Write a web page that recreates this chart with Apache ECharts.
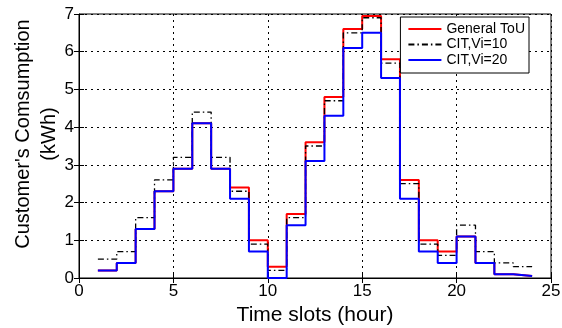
<!DOCTYPE html>
<html>
<head>
<meta charset="utf-8">
<title>ECharts</title>
<script src="https://cdn.jsdelivr.net/npm/echarts@6/dist/echarts.min.js"></script>
<style>html,body{margin:0;padding:0;background:#fff}</style>
</head>
<body>
<div id="main" style="width:562px;height:328px;"></div>
<script type="text/javascript">
// hour slots (each value holds from slot start to slot start + 1)
var hours = [1,2,3,4,5,6,7,8,9,10,11,12,13,14,15,16,17,18,19,20,21,22,23];
var generalToU = [0.2,0.4,1.3,2.3,2.9,4.1,2.9,2.4,1.0,0.3,1.7,3.6,4.8,6.6,6.95,5.8,2.6,1.0,0.7,1.1,0.4,0.1,0.05];
var citVi10 = [0.5,0.7,1.6,2.6,3.2,4.4,3.2,2.3,0.9,0.2,1.6,3.5,4.7,6.5,6.9,5.7,2.5,0.9,0.6,1.4,0.7,0.4,0.3];
var citVi20 = [0.2,0.4,1.3,2.3,2.9,4.1,2.9,2.1,0.7,0.0,1.4,3.1,4.3,6.1,6.5,5.3,2.1,0.7,0.4,1.1,0.4,0.1,0.05];
var seriesNames = ['General ToU', 'CIT,Vi=10', 'CIT,Vi=20'];
var xTicks = [0,5,10,15,20,25];
var yTicks = [0,1,2,3,4,5,6,7];

function steps(vals) {
    var pts = hours.map(function (h, i) { return [h, vals[i]]; });
    pts.push([hours[hours.length - 1] + 1, vals[vals.length - 1]]);
    return pts;
}

var font = 'Liberation Sans';
var myChart = echarts.init(document.getElementById('main'));
myChart.setOption({
    animation: false,
    textStyle: {fontFamily: font},
    grid: {left: 79, right: 11, top: 14, bottom: 50, outerBoundsMode: 'none', containLabel: false,
        show: true, borderColor: '#000', borderWidth: 1},
    legend: {
        orient: 'vertical', right: 33, top: 17,
        backgroundColor: '#fff', borderColor: '#000', borderWidth: 1,
        padding: [5, 4, 6, 7], itemGap: 1.5, itemWidth: 33, itemHeight: 14,
        itemStyle: {opacity: 0},
        textStyle: {fontFamily: font, fontSize: 14, color: '#000'},
        data: seriesNames
    },
    xAxis: [{
        type: 'value', min: xTicks[0], max: xTicks[xTicks.length - 1], interval: 5,
        name: 'Time slots (hour)', nameLocation: 'middle', nameGap: 27,
        nameTextStyle: {fontSize: 21, color: '#000'},
        axisLine: {lineStyle: {color: '#000'}},
        axisTick: {inside: true, length: 5, lineStyle: {color: '#000'}},
        axisLabel: {fontSize: 17, color: '#000', margin: 5},
        splitLine: {lineStyle: {color: '#000', type: [2, 4], width: 1}}
    }, {
        type: 'value', position: 'top', min: 0, max: 25, interval: 5,
        axisLine: {show: false}, axisLabel: {show: false}, splitLine: {show: false},
        axisTick: {inside: true, length: 5, lineStyle: {color: '#000'}}
    }],
    yAxis: [{
        type: 'value', min: yTicks[0], max: yTicks[yTicks.length - 1], interval: 1,
        name: "Customer's Comsumption\n(kWh)", nameLocation: 'middle', nameGap: 17,
        nameMoveOverlap: false,
        nameTextStyle: {fontSize: 20, color: '#000', lineHeight: 26, padding: [0, 0, 0, 24]},
        axisLine: {lineStyle: {color: '#000'}},
        axisTick: {inside: true, length: 5, lineStyle: {color: '#000'}},
        axisLabel: {fontSize: 17, color: '#000', margin: 5},
        splitLine: {lineStyle: {color: '#000', type: [2, 4], width: 1}}
    }, {
        type: 'value', position: 'right', min: 0, max: 7, interval: 1,
        axisLine: {show: false}, axisLabel: {show: false}, splitLine: {show: false},
        axisTick: {inside: true, length: 5, lineStyle: {color: '#000'}}
    }],
    series: [{
        name: seriesNames[0], type: 'line', step: 'end', symbol: 'none',
        data: steps(generalToU), color: '#ff0000',
        lineStyle: {color: '#ff0000', width: 2}
    }, {
        name: seriesNames[1], type: 'line', step: 'end', symbol: 'none',
        data: steps(citVi10), color: '#000',
        lineStyle: {color: '#000', width: 1.3, type: [6, 3, 1.5, 3]}
    }, {
        name: seriesNames[2], type: 'line', step: 'end', symbol: 'none',
        data: steps(citVi20), color: '#0000ff',
        lineStyle: {color: '#0000ff', width: 2}
    }]
});
</script>
</body>
</html>
